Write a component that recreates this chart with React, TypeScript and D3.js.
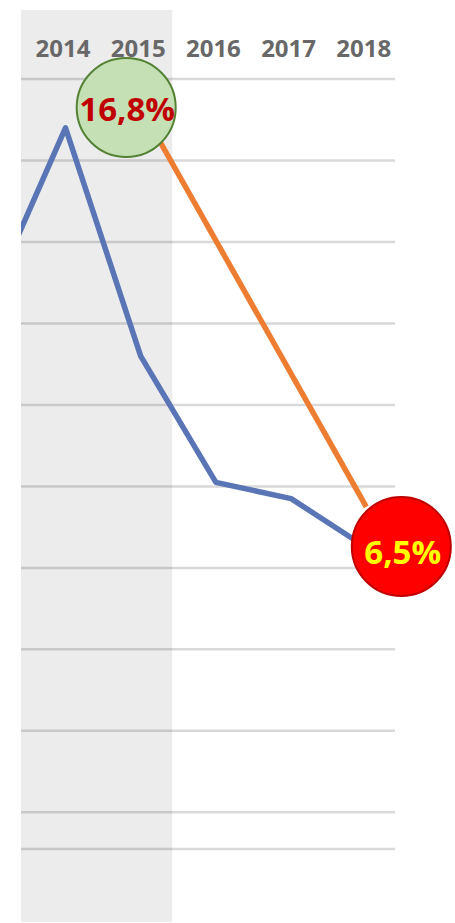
import React from 'react';
import * as d3 from 'd3';

// chart values
const years = [2013, 2014, 2015, 2016, 2017, 2018];
const yearLabels = ['2014', '2015', '2016', '2017', '2018'];
const rateValues = [12.6, 16.8, 11.2, 8.1, 7.7, 6.5];
const connectorYears = [2015, 2018];
const connectorValues = [17.3, 7.5];
const gridValues = [18, 16, 14, 12, 10, 8, 6, 4, 2, 0];
const highlightYears = [2014, 2015];
const startLabel = '16,8%';
const endLabel = '6,5%';

const W = 455;
const H = 923;
const plotLeft = 21;
const plotRight = 395;

const App = () => {
  const x = d3.scaleLinear().domain([2014, 2018]).range([65.5, 366.3]);
  const y = d3.scaleLinear().domain([-0.9, 18]).range([849, 79]);
  const step = x(2015) - x(2014);

  const line = d3.line<number>()
    .x((_, i) => x(years[i]))
    .y(d => y(d));

  const connector = d3.line<number>()
    .x((_, i) => x(connectorYears[i]))
    .y(d => y(d));

  const bandLeft = plotLeft;
  const bandRight = x(highlightYears[1]) + step * 0.42;

  const font = '"Open Sans", "Liberation Sans", sans-serif';

  // label bubbles sit next to the connector ends
  const startCx = x(connectorYears[0]) - 14.5;
  const startCy = y(connectorValues[0]);
  const endCx = x(2018) + 35;
  const endCy = y(6.5) - 1;

  return (
    <svg width={W} height={H} style={{ position: 'absolute', left: 0, top: 0, background: '#fff' }}>
      <defs>
        <clipPath id="plot">
          <rect x={plotLeft} y={0} width={plotRight - plotLeft + 80} height={H} />
        </clipPath>
      </defs>

      {/* gridlines */}
      {gridValues.map(v => (
        <line key={v} x1={plotLeft} x2={plotRight} y1={y(v)} y2={y(v)}
          stroke="#d9d9d9" strokeWidth={2.5} />
      ))}
      <line x1={plotLeft} x2={plotRight} y1={y(-0.9)} y2={y(-0.9)} stroke="#d9d9d9" strokeWidth={2.5} />

      {/* highlighted years */}
      <rect x={bandLeft} y={10} width={bandRight - bandLeft} height={912} fill="#000" fillOpacity={0.075} />

      {/* year labels */}
      {yearLabels.map(t => (
        <text key={t} x={x(+t) - 2.5} y={57} textAnchor="middle" fontFamily={font}
          fontWeight="bold" fontSize={24} fill="#686868">{t}</text>
      ))}

      <g clipPath="url(#plot)">
        <path d={line(rateValues) || ''} fill="none" stroke="#5975b5" strokeWidth={5.5} strokeLinejoin="round" />
        <path d={connector(connectorValues) || ''} fill="none" stroke="#ed7d31" strokeWidth={5.5} />
      </g>

      {/* start label */}
      <circle cx={startCx} cy={startCy} r={49.5} fill="#c5e0b4" stroke="#548235" strokeWidth={2} />
      <text x={startCx + 1} y={startCy + 13} textAnchor="middle" fontFamily={font}
        fontWeight="bold" fontSize={33} fill="#c00000">{startLabel}</text>

      {/* end label */}
      <circle cx={endCx} cy={endCy} r={49.5} fill="#ff0000" stroke="#c00000" strokeWidth={2} />
      <text x={endCx + 1.5} y={endCy + 17} textAnchor="middle" fontFamily={font}
        fontWeight="bold" fontSize={33} fill="#ffff00">{endLabel}</text>
    </svg>
  );
};

export default App;
